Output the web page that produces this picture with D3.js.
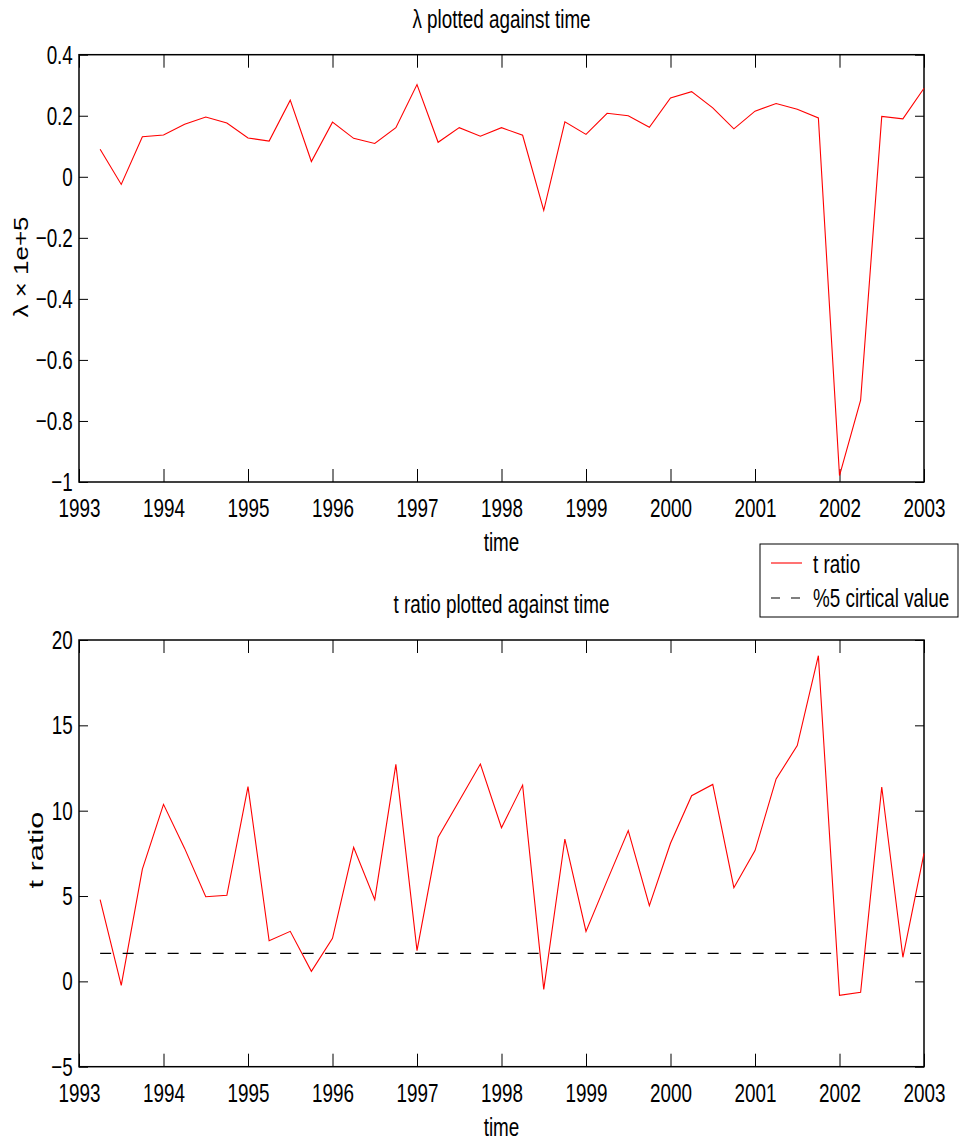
<!DOCTYPE html>
<html>
<head>
<meta charset="utf-8">
<script src="https://cdn.jsdelivr.net/npm/d3@7"></script>
<style>
  body { margin: 0; background: #fff; }
  text { font-family: "Liberation Sans", Arial, sans-serif; fill: #000; }
</style>
</head>
<body>
<svg width="959" height="1142"></svg>
<script>
const quarters = [1993.25, 1993.5, 1993.75, 1994, 1994.25, 1994.5, 1994.75, 1995, 1995.25, 1995.5,
  1995.75, 1996, 1996.25, 1996.5, 1996.75, 1997, 1997.25, 1997.5, 1997.75, 1998,
  1998.25, 1998.5, 1998.75, 1999, 1999.25, 1999.5, 1999.75, 2000, 2000.25, 2000.5,
  2000.75, 2001, 2001.25, 2001.5, 2001.75, 2002, 2002.25, 2002.5, 2002.75, 2003];

const lambda = [0.090, -0.025, 0.131, 0.137, 0.172, 0.196, 0.176, 0.127, 0.117, 0.251,
  0.050, 0.179, 0.126, 0.109, 0.161, 0.302, 0.113, 0.161, 0.133, 0.161,
  0.136, -0.110, 0.180, 0.139, 0.208, 0.200, 0.162, 0.258, 0.279, 0.226,
  0.157, 0.215, 0.240, 0.221, 0.193, -0.979, -0.732, 0.198, 0.190, 0.290];

const tRatio = [4.79, -0.23, 6.58, 10.37, 7.79, 4.96, 5.04, 11.41, 2.38, 2.93,
  0.59, 2.52, 7.85, 4.79, 12.71, 1.80, 8.44, 10.58, 12.73, 9.00,
  11.50, -0.47, 8.34, 2.93, 5.90, 8.83, 4.43, 8.09, 10.88, 11.54,
  5.49, 7.66, 11.86, 13.81, 19.08, -0.82, -0.64, 11.39, 1.41, 7.50];

const critical = 1.645;
const critSpan = [1993.25, 2003];

const yearTicks = [1993, 1994, 1995, 1996, 1997, 1998, 1999, 2000, 2001, 2002, 2003];
const lambdaTicks = [-1, -0.8, -0.6, -0.4, -0.2, 0, 0.2, 0.4];
const tTicks = [-5, 0, 5, 10, 15, 20];

const svg = d3.select('svg');
const left = 79, right = 924;
// the source figure was squeezed sideways, so text is drawn narrow and tall
const squeeze = 'scale(0.82,1.15)';

const x = d3.scaleLinear().domain([1993, 2003]).range([left, right]);

function label(parent, px, py, str, anchor) {
  return parent.append('text')
    .attr('transform', `translate(${px},${py}) ${squeeze}`)
    .attr('text-anchor', anchor || 'start')
    .style('font-size', '23px')
    .text(str);
}

function panel(top, bottom, yDomain, yTicks, values, title, ylab, ylabLen) {
  const y = d3.scaleLinear().domain(yDomain).range([bottom, top]);
  const g = svg.append('g');

  // ticks pointing inward, labels only on bottom/left
  g.append('g')
    .attr('transform', `translate(0,${bottom})`)
    .call(d3.axisBottom(x).tickValues(yearTicks).tickFormat(d3.format('d')).tickSize(-13).tickPadding(14))
    .call(a => a.select('.domain').remove());
  g.append('g')
    .attr('transform', `translate(0,${top})`)
    .call(d3.axisTop(x).tickValues(yearTicks).tickFormat('').tickSize(-13))
    .call(a => a.select('.domain').remove());
  g.append('g')
    .attr('transform', `translate(${left},0)`)
    .call(d3.axisLeft(y).tickValues(yTicks).tickFormat(d3.format('~g')).tickSize(-9).tickPadding(7.5))
    .call(a => a.select('.domain').remove());
  g.append('g')
    .attr('transform', `translate(${right},0)`)
    .call(d3.axisRight(y).tickValues(yTicks).tickFormat('').tickSize(-9))
    .call(a => a.select('.domain').remove());

  g.selectAll('.tick text')
    .attr('font-family', null)
    .style('font-size', '23px')
    .attr('transform', squeeze);
  g.selectAll('.tick line').attr('stroke', '#000');

  g.append('rect')
    .attr('x', left).attr('y', top)
    .attr('width', right - left).attr('height', bottom - top)
    .attr('fill', 'none').attr('stroke', '#000').attr('stroke-width', 1.5);

  g.append('path')
    .datum(quarters.map((q, i) => [q, values[i]]))
    .attr('fill', 'none')
    .attr('stroke', '#ff0000')
    .attr('stroke-width', 1.1)
    .attr('d', d3.line().x(d => x(d[0])).y(d => y(d[1])));

  label(g, (left + right) / 2, top - 27, title, 'middle');
  label(g, (left + right) / 2, bottom + 69, 'time', 'middle');

  g.append('text')
    .attr('transform', `translate(${ylab.x},${ylab.y}) rotate(-90)`)
    .attr('text-anchor', 'middle')
    .attr('textLength', ylabLen).attr('lengthAdjust', 'spacingAndGlyphs')
    .style('font-size', '21px')
    .text(ylab.text);

  return { g, y };
}

panel(54.7, 482, [-1, 0.4], lambdaTicks, lambda, 'λ plotted against time',
  { x: 28, y: 267, text: 'λ × 1e+5' }, 101);

const p2 = panel(640, 1066.7, [-5, 20], tTicks, tRatio, 't ratio plotted against time',
  { x: 43, y: 850, text: 't ratio' }, 77);

p2.g.append('line')
  .attr('x1', x(critSpan[0])).attr('x2', x(critSpan[1]))
  .attr('y1', p2.y(critical)).attr('y2', p2.y(critical))
  .attr('stroke', '#000').attr('stroke-width', 1.2)
  .attr('stroke-dasharray', '11,11.5');

// legend
const lg = svg.append('g');
lg.append('rect')
  .attr('x', 760).attr('y', 544).attr('width', 198).attr('height', 73)
  .attr('fill', '#fff').attr('stroke', '#000').attr('stroke-width', 1);
lg.append('line')
  .attr('x1', 771).attr('x2', 802).attr('y1', 563).attr('y2', 563)
  .attr('stroke', '#ff0000').attr('stroke-width', 1.1);
lg.append('line')
  .attr('x1', 771).attr('x2', 800).attr('y1', 598).attr('y2', 598)
  .attr('stroke', '#000').attr('stroke-width', 1.2)
  .attr('stroke-dasharray', '9,11');
label(lg, 813, 573, 't ratio');
label(lg, 813, 607, '%5 cirtical value');
</script>
</body>
</html>
